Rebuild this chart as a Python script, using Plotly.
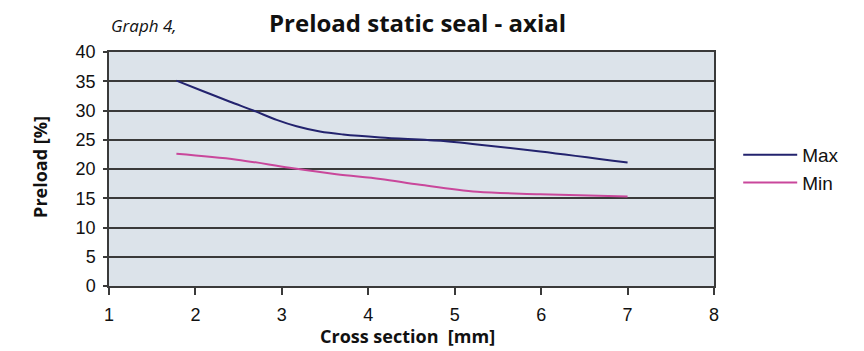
import plotly.graph_objects as go

# Data
max_x = [1.78, 2.09, 2.40, 2.67, 2.94, 3.17, 3.44, 3.71, 4.14, 4.87, 5.26, 5.99, 7.0]
max_y = [35.1, 33.3, 31.5, 30.0, 28.4, 27.3, 26.4, 25.9, 25.4, 24.8, 24.2, 23.0, 21.1]
min_x = [1.78, 2.48, 3.09, 3.63, 4.14, 4.6, 5.26, 5.99, 7.0]
min_y = [22.6, 21.6, 20.2, 19.1, 18.3, 17.3, 16.1, 15.7, 15.3]
x_ticks = [1, 2, 3, 4, 5, 6, 7, 8]
y_ticks = [0, 5, 10, 15, 20, 25, 30, 35, 40]

fig = go.Figure()
fig.add_trace(go.Scatter(x=max_x, y=max_y, mode="lines", name="Max",
                         line=dict(color="#23236e", width=2, shape="spline", smoothing=1.0)))
fig.add_trace(go.Scatter(x=min_x, y=min_y, mode="lines", name="Min",
                         line=dict(color="#c9479b", width=2, shape="spline", smoothing=1.0)))

grid = "#3a3a3a"
fig.update_layout(
    width=864, height=351,
    margin=dict(l=109, r=150, t=52, b=65, autoexpand=False),
    paper_bgcolor="white",
    plot_bgcolor="#dce3ea",
    font=dict(family="Liberation Sans, Arial", size=18, color="#111"),
    showlegend=True,
    legend=dict(x=1.04, y=0.5, xanchor="left", yanchor="middle",
                font=dict(size=19, family="Liberation Sans, Arial"),
                bgcolor="rgba(0,0,0,0)", tracegroupgap=0, itemwidth=54),
    xaxis=dict(range=[1, 8], tickvals=x_ticks, showgrid=False, zeroline=False,
               showline=True, linecolor=grid, linewidth=1.5, mirror=True,
               ticks="outside", ticklen=7, tickcolor=grid, tickwidth=1.5,
               ticklabelstandoff=5, automargin=False),
    yaxis=dict(range=[0, 40], tickvals=y_ticks, showgrid=True, gridcolor=grid, gridwidth=1.5,
               zeroline=False, showline=True, linecolor=grid, linewidth=1.5, mirror=True,
               ticks="outside", ticklen=4, tickcolor=grid, tickwidth=1.5,
               ticklabelstandoff=4, automargin=False),
    annotations=[
        dict(text="<b>Preload static seal - axial</b>", xref="paper", yref="paper",
             x=0.51, y=1.0, yshift=30, xanchor="center", yanchor="middle", showarrow=False,
             font=dict(family="Open Sans", size=24, color="#111")),
        dict(text="<i>Graph 4,</i>", xref="paper", yref="paper",
             x=0.0, y=1.0, xshift=0, yshift=27, xanchor="left", yanchor="middle", showarrow=False,
             font=dict(family="Open Sans", size=17, color="#111")),
        dict(text="<b>Cross section  [mm]</b>", xref="paper", yref="paper",
             x=0.493, y=0.0, yshift=-63, xanchor="center", yanchor="bottom", showarrow=False,
             borderpad=0, font=dict(family="Open Sans", size=18, color="#111")),
        dict(text="<b>Preload [%]</b>", xref="paper", yref="paper", textangle=-90,
             x=0.0, y=0.509, xshift=-69, xanchor="center", yanchor="middle", showarrow=False,
             font=dict(family="Open Sans", size=18, color="#111")),
    ],
)

fig.write_html("out.html", config={"displayModeBar": False},
               post_script="document.body.style.margin='0';")
